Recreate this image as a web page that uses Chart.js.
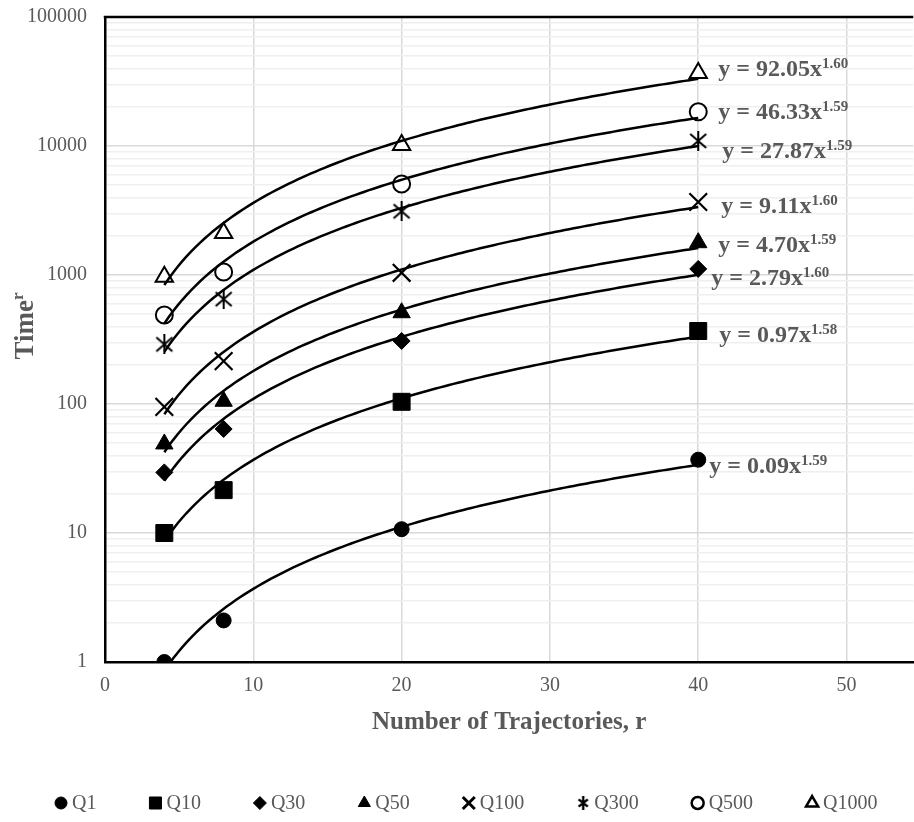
<!DOCTYPE html>
<html><head><meta charset="utf-8">
<script src="https://cdn.jsdelivr.net/npm/chart.js@4"></script>
<style>html,body{margin:0;padding:0;background:#fff;overflow:hidden;width:914px;height:822px}canvas{display:block}</style>
</head><body>
<canvas id="c" width="928" height="822" style="width:928px;height:822px"></canvas>
<script>
// ---------- data ----------
const seriesNames = ['Q1','Q10','Q30','Q50','Q100','Q300','Q500','Q1000'];
const xValues = [4, 8, 20, 40];
const q1    = [1, 2.1, 10.7, 37];
const q10   = [10, 21.5, 104, 368];
const q30   = [29.5, 64, 308, 1115];
const q50   = [49, 105, 510, 1780];
const q100  = [95, 215, 1040, 3680];
const q300  = [290, 650, 3120, 10950];
const q500  = [490, 1055, 5080, 18400];
const q1000 = [970, 2120, 10200, 36800];
const fitCoefA = ['0.09','0.97','2.79','4.70','9.11','27.87','46.33','92.05'];
const fitExpB  = ['1.59','1.58','1.60','1.59','1.60','1.59','1.59','1.60'];
const xTicks = [0, 10, 20, 30, 40, 50];
const yMajorTicks = [1, 10, 100, 1000, 10000, 100000];
const yMinorMultipliers = [2, 3, 4, 5, 6, 7, 8, 9];

const seriesValues = [q1, q10, q30, q50, q100, q300, q500, q1000];

// ---------- styles ----------
const FONT = '"Liberation Serif", "Times New Roman", serif';
const GREY = '#595959';
function makeAsterisk(size, lw) {
  const c = document.createElement('canvas');
  c.width = size; c.height = size;
  const g = c.getContext('2d');
  g.strokeStyle = '#000'; g.lineWidth = lw; g.lineCap = 'butt';
  const m = lw, s = size;
  g.beginPath();
  g.moveTo(m, m + 1); g.lineTo(s - m, s - m - 1);
  g.moveTo(s - m, m + 1); g.lineTo(m, s - m - 1);
  g.moveTo(s / 2, 0); g.lineTo(s / 2, s);
  g.stroke();
  return c;
}
const asteriskBig = makeAsterisk(20, 2);
const asteriskSmall = makeAsterisk(14, 2.4);

const markerStyles = [
  {style:'circle',   r:7.5, bg:'#000', bw:1},
  {style:'rect',     r:12,  bg:'#000', bw:1},
  {style:'rectRot',  r:8.5, bg:'#000', bw:1},
  {style:'triangle', r:10,  bg:'#000', bw:1},
  {style:'crossRot', r:12.5,bg:'#000', bw:2.2},
  {style:asteriskBig,r:10,  bg:'#000', bw:0},
  {style:'circle',   r:8.5, bg:'#fff', bw:2},
  {style:'triangle', r:10,  bg:'#fff', bw:2}
];
const legendMarkers = [
  {style:'circle',   r:6,   bg:'#000', bw:1},
  {style:'rect',     r:8.5, bg:'#000', bw:1},
  {style:'rectRot',  r:6.5, bg:'#000', bw:1},
  {style:'triangle', r:7,   bg:'#000', bw:1},
  {style:'crossRot', r:8.5, bg:'#000', bw:3},
  {style:asteriskSmall, r:6, bg:'#000', bw:0},
  {style:'circle',   r:6,   bg:'#fff', bw:2.5},
  {style:'triangle', r:7,   bg:'#fff', bw:2.5}
];
// label offsets (px) from the last data point: [dx, dy of baseline]
const labelOffsets = [[11,13],[21,10.5],[13,16],[20,9.5],[23,11],[24,17.5],[20,6.7],[20,2.5]];

// ---------- power-law trend (least squares in log space, as the spreadsheet does) ----------
function powerFit(xs, ys) {
  const lx = xs.map(Math.log), ly = ys.map(Math.log);
  const n = xs.length;
  const mx = lx.reduce((a,b)=>a+b,0)/n, my = ly.reduce((a,b)=>a+b,0)/n;
  let sxy = 0, sxx = 0;
  for (let i = 0; i < n; i++) { sxy += (lx[i]-mx)*(ly[i]-my); sxx += (lx[i]-mx)**2; }
  const b = sxy / sxx;
  return {a: Math.exp(my - b*mx), b};
}
function trendPoints(xs, ys) {
  const f = powerFit(xs, ys);
  const pts = [];
  const x0 = xs[0], x1 = xs[xs.length-1];
  for (let k = 0; k <= 120; k++) {
    const x = x0 + (x1 - x0) * k / 120;
    pts.push({x, y: f.a * Math.pow(x, f.b)});
  }
  return pts;
}

const datasets = [];
seriesNames.forEach((name, i) => {
  const m = markerStyles[i];
  datasets.push({
    type: 'scatter', label: name, order: 2,
    data: xValues.map((x, j) => ({x, y: seriesValues[i][j]})),
    pointStyle: m.style, pointRadius: m.r, pointHoverRadius: m.r,
    pointBackgroundColor: m.bg, pointBorderColor: '#000', pointBorderWidth: m.bw,
    showLine: false
  });
});
seriesNames.forEach((name, i) => {
  datasets.push({
    type: 'line', label: name + ' trend', order: 1,
    data: trendPoints(xValues, seriesValues[i]),
    borderColor: '#000', borderWidth: 2.5, pointRadius: 0, tension: 0, fill: false
  });
});

const yTickValues = [];
yMajorTicks.forEach((v, i) => {
  yTickValues.push(v);
  if (i < yMajorTicks.length - 1) yMinorMultipliers.forEach(m => yTickValues.push(v * m));
});

const decorPlugin = {
  id: 'decor',
  afterDraw(chart) {
    const ctx = chart.ctx, ca = chart.chartArea;
    const xs = chart.scales.x, ys = chart.scales.y;
    ctx.save();
    // top border
    ctx.strokeStyle = '#000'; ctx.lineWidth = 2.5;
    ctx.beginPath(); ctx.moveTo(ca.left - 1.25, ca.top); ctx.lineTo(ca.right, ca.top); ctx.stroke();

    // y-axis title with superscript
    ctx.save();
    ctx.translate(33, 326);
    ctx.rotate(-Math.PI / 2);
    ctx.fillStyle = GREY; ctx.textBaseline = 'alphabetic';
    ctx.font = 'bold 27px ' + FONT;
    const w1 = ctx.measureText('Time').width;
    ctx.font = 'bold 17px ' + FONT;
    const w2 = ctx.measureText('r').width;
    const sx = -(w1 + w2) / 2;
    ctx.font = 'bold 27px ' + FONT;
    ctx.fillText('Time', sx, 0);
    ctx.font = 'bold 17px ' + FONT;
    ctx.fillText('r', sx + w1, -10);
    ctx.restore();

    // trend equations
    ctx.fillStyle = GREY; ctx.textBaseline = 'alphabetic';
    seriesNames.forEach((n, i) => {
      const last = seriesValues[i].length - 1;
      const px = xs.getPixelForValue(xValues[last]) + labelOffsets[i][0];
      const py = ys.getPixelForValue(seriesValues[i][last]) + labelOffsets[i][1];
      ctx.font = 'bold 24px ' + FONT;
      const main = 'y = ' + fitCoefA[i] + 'x';
      ctx.fillText(main, px, py);
      const mw = ctx.measureText(main).width;
      ctx.font = 'bold 15px ' + FONT;
      ctx.fillText(fitExpB[i], px + mw, py - 8);
    });

    // legend
    ctx.font = '20px ' + FONT;
    ctx.textBaseline = 'middle';
    const ly = 803, gap = 53, mW = 12, tGap = 5;
    let x = 55;
    seriesNames.forEach((n, i) => {
      const m = legendMarkers[i];
      ctx.fillStyle = m.bg; ctx.strokeStyle = '#000'; ctx.lineWidth = m.bw;
      Chart.helpers.drawPoint(ctx, {pointStyle: m.style, radius: m.r, borderWidth: m.bw, rotation: 0}, x + mW / 2, ly);
      ctx.fillStyle = GREY;
      ctx.fillText(n, x + mW + tGap, ly + 1);
      x += mW + tGap + ctx.measureText(n).width + gap;
    });
    ctx.restore();
  }
};

new Chart(document.getElementById('c'), {
  data: {datasets},
  options: {
    responsive: false, animation: false, events: [],
    layout: {padding: {top: 17, bottom: 83, left: 0, right: 0}},
    plugins: {legend: {display: false}, tooltip: {enabled: false}},
    scales: {
      x: {
        type: 'linear', min: 0, max: 54.5,
        afterBuildTicks: s => { s.ticks = xTicks.map(v => ({value: v})); },
        afterFit: s => { s.height = 77; s.paddingLeft = 0; s.paddingRight = 0; },
        grid: {color: '#d9d9d9', lineWidth: 1.5, drawTicks: false},
        border: {color: '#000', width: 2.5},
        ticks: {color: GREY, font: {family: FONT, size: 20}, padding: 12, autoSkip: false, maxRotation: 0},
        title: {display: true, text: 'Number of Trajectories, r', color: GREY,
                font: {family: FONT, size: 25, weight: 'bold'}, padding: {top: 0, bottom: 1}}
      },
      y: {
        type: 'logarithmic', min: 1, max: 100000,
        afterBuildTicks: s => { s.ticks = yTickValues.map(v => ({value: v, major: yMajorTicks.includes(v)})); },
        afterFit: s => { s.width = 105; s.paddingTop = 0; s.paddingBottom = 0; },
        grid: {
          color: c => (c.tick && yMajorTicks.includes(c.tick.value)) ? '#d9d9d9' : '#efefef',
          lineWidth: 1.5, drawTicks: false
        },
        border: {color: '#000', width: 2.5},
        ticks: {
          color: GREY, font: {family: FONT, size: 20}, padding: 18, autoSkip: false,
          callback: v => yMajorTicks.includes(v) ? String(v) : ''
        }
      }
    }
  },
  plugins: [decorPlugin]
});
</script>
</body></html>
